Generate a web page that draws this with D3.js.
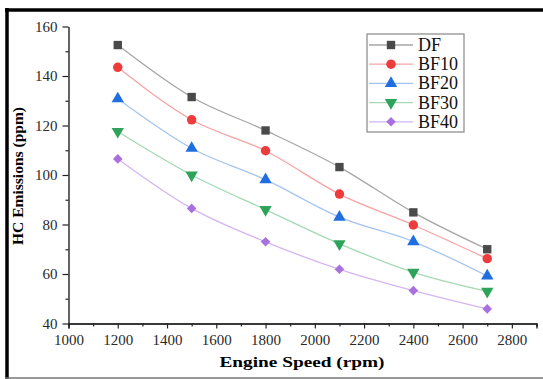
<!DOCTYPE html>
<html>
<head>
<meta charset="utf-8">
<script src="https://cdn.jsdelivr.net/npm/d3@7"></script>
<style>
  body { margin: 0; background: #fff; }
</style>
</head>
<body>
<svg class="hc-chart" width="543" height="379"></svg>
<script>
const speeds = [1200, 1500, 1800, 2100, 2400, 2700];
const seriesNames = ["DF", "BF10", "BF20", "BF30", "BF40"];
const df   = [152.5, 131.5, 118.0, 103.2, 84.9, 70.0];
const bf10 = [143.5, 122.3, 109.8, 92.3, 79.8, 66.2];
const bf20 = [130.8, 110.8, 98.1, 83.0, 73.1, 59.2];
const bf30 = [117.6, 100.0, 86.0, 72.2, 60.7, 53.0];
const bf40 = [106.5, 86.5, 73.0, 61.9, 53.3, 45.9];
const xTicks = [1000, 1200, 1400, 1600, 1800, 2000, 2200, 2400, 2600, 2800];
const yTicks = [40, 60, 80, 100, 120, 140, 160];

const seriesValues = [df, bf10, bf20, bf30, bf40];
const lineColors = ["#a6a6a6", "#f7a3a3", "#a6c4f2", "#a3d9b5", "#d4b5f2"];
const markColors = ["#4a4a4a", "#ee3b3b", "#1f6fe0", "#2ea35a", "#a970e0"];
const shapes = [
  {type: d3.symbolSquare, size: 70, rot: 0},
  {type: d3.symbolCircle, size: 70, rot: 0},
  {type: d3.symbolTriangle, size: 66, rot: 0},
  {type: d3.symbolTriangle, size: 66, rot: 180},
  {type: d3.symbolSquare, size: 46, rot: 45}
];
const serif = "'Liberation Serif', 'Times New Roman', Times, serif";

const svg = d3.select("svg.hc-chart");

// outer frame of the figure
svg.append("rect").attr("x", 0).attr("y", 0).attr("width", 543).attr("height", 379).attr("fill", "#fff");
svg.append("line").attr("x1", 5).attr("x2", 543).attr("y1", 10).attr("y2", 10)
  .attr("stroke", "#000").attr("stroke-width", 3.5);
svg.append("line").attr("x1", 7).attr("x2", 7).attr("y1", 8).attr("y2", 379)
  .attr("stroke", "#000").attr("stroke-width", 3.5);
svg.append("line").attr("x1", 5).attr("x2", 543).attr("y1", 378).attr("y2", 378)
  .attr("stroke", "#777").attr("stroke-width", 1.5);

const x = d3.scaleLinear().domain([1000, 2900]).range([68.5, 536.5]);
const y = d3.scaleLinear().domain([40, 160]).range([323.5, 26.5]);

// minor ticks
const xMinor = d3.range(1100, 2901, 200);
const yMinor = d3.range(50, 160, 20);

const gx = svg.append("g").attr("transform", `translate(0, ${y(40)})`);
gx.call(d3.axisBottom(x).tickValues(xMinor).tickSize(3).tickFormat(""));
gx.selectAll(".tick line").attr("stroke-width", 1.2).attr("stroke", "#222");
const gx2 = svg.append("g").attr("transform", `translate(0, ${y(40)})`)
  .call(d3.axisBottom(x).tickValues(xTicks).tickSize(5).tickPadding(6).tickFormat(d3.format("")));
gx2.select(".domain").attr("stroke-width", 1.4).attr("stroke", "#222");
gx2.selectAll(".tick line").attr("stroke-width", 1.2).attr("stroke", "#222");
gx2.selectAll("text").attr("font-size", 15).attr("fill", "#2a2a2a").attr("font-family", serif);

const gy = svg.append("g").attr("transform", `translate(${x(1000)}, 0)`);
gy.call(d3.axisLeft(y).tickValues(yMinor).tickSize(3).tickFormat(""));
gy.select(".domain").remove();
gy.selectAll(".tick line").attr("stroke-width", 1.2).attr("stroke", "#222");
const gy2 = svg.append("g").attr("transform", `translate(${x(1000)}, 0)`)
  .call(d3.axisLeft(y).tickValues(yTicks).tickSize(6).tickPadding(5).tickSizeOuter(0));
gy2.select(".domain").attr("stroke-width", 1.4).attr("stroke", "#222");
gy2.selectAll(".tick line").attr("stroke-width", 1.2).attr("stroke", "#222");
gy2.selectAll("text").attr("font-size", 15).attr("fill", "#2a2a2a").attr("font-family", serif);

// axis titles
svg.append("text")
  .attr("x", 302).attr("y", 367)
  .attr("text-anchor", "middle")
  .attr("font-family", serif)
  .attr("font-size", 15).attr("font-weight", "bold")
  .attr("textLength", 165).attr("lengthAdjust", "spacingAndGlyphs")
  .text("Engine Speed (rpm)");
svg.append("text")
  .attr("transform", "translate(23, 176) rotate(-90)")
  .attr("text-anchor", "middle")
  .attr("font-family", serif)
  .attr("font-size", 15).attr("font-weight", "bold")
  .attr("textLength", 138).attr("lengthAdjust", "spacingAndGlyphs")
  .text("HC Emissions (ppm)");

// series
const line = d3.line().x(d => x(d[0])).y(d => y(d[1])).curve(d3.curveMonotoneX);

seriesValues.forEach((vals, i) => {
  const pts = speeds.map((s, j) => [s, vals[j]]);
  svg.append("path").datum(pts)
    .attr("fill", "none")
    .attr("stroke", lineColors[i])
    .attr("stroke-width", 1.3)
    .attr("d", line);
  svg.selectAll(".m" + i)
    .data(pts)
    .enter().append("path")
      .attr("class", "m" + i)
      .attr("transform", d => `translate(${x(d[0])}, ${y(d[1])}) rotate(${shapes[i].rot})`)
      .attr("d", d3.symbol().type(shapes[i].type).size(shapes[i].size))
      .attr("fill", markColors[i]);
});

// legend
const legend = svg.append("g").attr("transform", "translate(367, 34)");
legend.append("rect")
  .attr("width", 97).attr("height", 98)
  .attr("fill", "#fff").attr("stroke", "#888").attr("stroke-width", 1.2);
seriesNames.forEach((name, i) => {
  const ly = 11 + i * 19.2;
  legend.append("line")
    .attr("x1", 2).attr("x2", 46).attr("y1", ly).attr("y2", ly)
    .attr("stroke", lineColors[i]).attr("stroke-width", 1.3);
  legend.append("path")
    .attr("transform", `translate(24, ${ly}) rotate(${shapes[i].rot})`)
    .attr("d", d3.symbol().type(shapes[i].type).size(shapes[i].size))
    .attr("fill", markColors[i]);
  legend.append("text")
    .attr("x", 51).attr("y", ly + 6)
    .attr("font-family", serif)
    .attr("font-size", 18).attr("fill", "#111")
    .text(name);
});
</script>
</body>
</html>
